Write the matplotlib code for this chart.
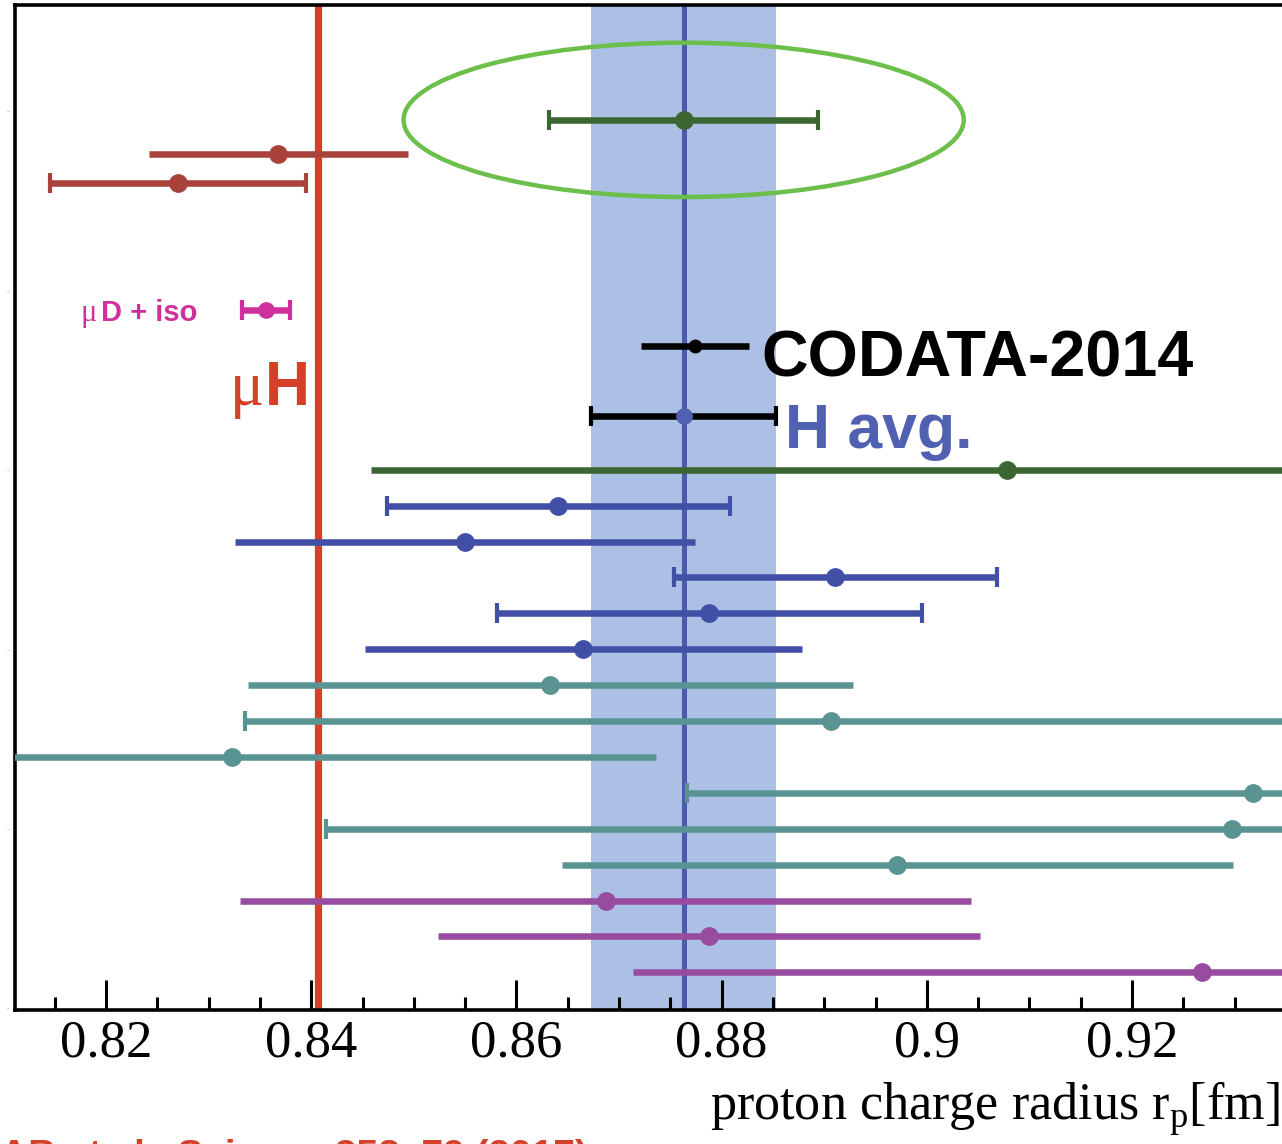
import matplotlib
matplotlib.use("Agg")
import matplotlib.pyplot as plt
from matplotlib.patches import Ellipse
from matplotlib.ticker import MultipleLocator, FixedLocator

# ---- data: proton charge radius r_p [fm], value +/- 1 sigma, row on the y axis ----
green_row, green_val, green_err = 24.75, 0.8763, 0.0131          # circled H result

brown_rows = [23.8, 23.0]
brown_vals = [0.8368, 0.8270]
brown_errs = [0.0126, 0.0125]

mud_row, mud_val, mud_err = 19.45, 0.8356, 0.0023                # muD + iso

codata_row, codata_val, codata_err = 18.45, 0.8774, 0.0053       # CODATA-2014

havg_row, havg_val, havg_err = 16.5, 0.8763, 0.0090              # H average

dgreen_rows = [15.0]
dgreen_vals = [0.9078]
dgreen_errs = [0.0620]

blue_rows = [14, 13, 12, 11, 10]
blue_vals = [0.8641, 0.8550, 0.8911, 0.8788, 0.8665]
blue_errs = [0.0167, 0.0224, 0.0157, 0.0207, 0.0213]

teal_rows = [9, 8, 7, 6, 5, 4]
teal_vals = [0.8633, 0.8907, 0.8323, 0.9318, 0.9297, 0.8971]
teal_errs = [0.0295, 0.0572, 0.0413, 0.0552, 0.0883, 0.0327]

purple_rows = [3, 2, 1]
purple_vals = [0.8687, 0.8788, 0.9268]
purple_errs = [0.0356, 0.0264, 0.0554]

muH_radius = 0.8407

x_major = [0.82, 0.84, 0.86, 0.88, 0.90, 0.92]
x_labels = ["0.82", "0.84", "0.86", "0.88", "0.9", "0.92"]

# ---- styling ----
C_GREEN = "#3b6632"
C_BROWN = "#a8423a"
C_MAG = "#d0309c"
C_BLUE = "#4150a6"
C_TEAL = "#5a9492"
C_PURPLE = "#984ca0"
C_RED = "#d4402a"
C_BAND = "#abc0e4"
C_HLINE = "#4c5aaa"
C_HTEXT = "#5161b2"
C_ELL = "#6cbf4a"

BAR_LW = 4.7
MS = 12.5

fig = plt.figure(figsize=(12.82, 11.44), dpi=100)
ax = fig.add_axes([15 / 1282, 134 / 1144, 1 - 15 / 1282, 1005 / 1144])
ax.set_xlim(0.81113, 0.93462)
ax.set_ylim(-0.05, 27.95)

# H average band and central line, muonic hydrogen line
ax.axvspan(havg_val - havg_err, havg_val + havg_err, color=C_BAND, lw=0, zorder=0)
ax.axvline(havg_val, color=C_HLINE, lw=3.6, zorder=1)
ax.axvline(muH_radius, color=C_RED, lw=5.2, zorder=1)


def draw(vals, rows, errs, color, caps, ms=MS, mcolor=None):
    for v, r, e, c in zip(vals, rows, errs, caps):
        ax.errorbar(v, r, xerr=e, fmt="o", color=mcolor or color, ecolor=color,
                    ms=ms, elinewidth=BAR_LW, capsize=7 if c else 0,
                    capthick=3.0, zorder=3, clip_on=True)


draw([green_val], [green_row], [green_err], C_GREEN, [True])
draw(brown_vals, brown_rows, brown_errs, C_BROWN, [False, True])
draw([mud_val], [mud_row], [mud_err], C_MAG, [True], ms=11)
draw([codata_val], [codata_row], [codata_err], "black", [False], ms=9)
draw([havg_val], [havg_row], [havg_err], "black", [True], ms=11, mcolor=C_HTEXT)
draw(dgreen_vals, dgreen_rows, dgreen_errs, C_GREEN, [False])
draw(blue_vals, blue_rows, blue_errs, C_BLUE, [True, False, True, True, False])
draw(teal_vals, teal_rows, teal_errs, C_TEAL, [False, True, False, True, True, False])
draw(purple_vals, purple_rows, purple_errs, C_PURPLE, [False, False, False])

# ring around the circled result
ax.add_patch(Ellipse((green_val, green_row), width=0.0546, height=4.3,
                     fill=False, ec=C_ELL, lw=3.2, zorder=4))

# annotations
ax.text(0.8839, 17.6, "CODATA-2014", fontsize=46.5, fontweight="bold",
        family="Liberation Sans", color="black", va="baseline", ha="left", zorder=5)
ax.text(0.8862, 15.6, "H avg.", fontsize=45, fontweight="bold",
        family="Liberation Sans", color=C_HTEXT, va="baseline", ha="left", zorder=5)
ax.text(0.83990, 16.8, "H", fontsize=45, fontweight="bold",
        family="Liberation Sans", color=C_RED, va="baseline", ha="right", zorder=5)
ax.text(0.83540, 16.8, "\u03bc", fontsize=46, family="Liberation Serif",
        color=C_RED, va="baseline", ha="right", zorder=5)
ax.text(0.8175, 19.15, "\u03bc", fontsize=22, family="Liberation Serif",
        color=C_MAG, va="baseline", ha="left", zorder=5)
ax.text(0.8195, 19.15, "D + iso", fontsize=21, fontweight="bold",
        family="Liberation Sans", color=C_MAG, va="baseline", ha="left", zorder=5)

# axes frame and ticks
for side in ("left", "top", "bottom"):
    ax.spines[side].set_linewidth(2.6)
    ax.spines[side].set_color("black")
ax.spines["right"].set_visible(False)

ax.xaxis.set_major_locator(FixedLocator(x_major))
ax.set_xticklabels(x_labels)
ax.xaxis.set_minor_locator(MultipleLocator(0.005))
ax.tick_params(axis="x", which="major", direction="in", length=21.5, width=2.2,
               labelsize=38, pad=7, top=False)
ax.tick_params(axis="x", which="minor", direction="in", length=9.5, width=2.2, top=False)
for lab in ax.get_xticklabels():
    lab.set_family("Liberation Serif")

ax.set_yticks([0, 5, 10, 15, 20, 25])
ax.set_yticklabels(["-"] * 6)
ax.tick_params(axis="y", which="both", length=0, labelsize=5, pad=4,
               labelcolor="#8c8fc8")

plt.rcParams["mathtext.fontset"] = "custom"
plt.rcParams["mathtext.rm"] = "Liberation Serif"
fig.text(1280 / 1282, 24 / 1144, r"proton charge radius r$_{\mathregular{p}}$[fm]",
         fontsize=37.5, family="Liberation Serif", ha="right", va="baseline")

# reference line, mostly below the figure edge
fig.text(0.0, -0.02, "AB et al., Science 358, 79 (2017)", fontsize=28,
         fontweight="bold", family="Liberation Sans", color=C_RED,
         ha="left", va="baseline")

fig.savefig("out.png", dpi=100)
